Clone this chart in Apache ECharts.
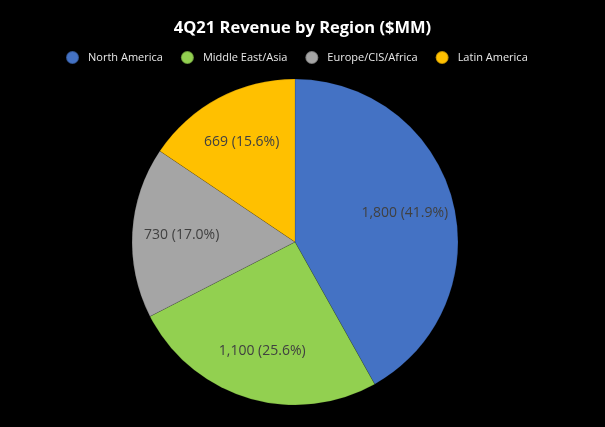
<!DOCTYPE html>
<html>
<head>
<meta charset="utf-8">
<script src="https://cdn.jsdelivr.net/npm/echarts@6/dist/echarts.min.js"></script>
<style>
  html, body { margin: 0; padding: 0; background: #000; }
  #chart { width: 605px; height: 427px; }
</style>
</head>
<body>
<div id="chart"></div>
<script>
// chart data
const regions = ['North America', 'Middle East/Asia', 'Europe/CIS/Africa', 'Latin America'];
const revenue = [1800, 1100, 730, 669];
const colors = ['#4472C4', '#92D050', '#A5A5A5', '#FFC000'];

const chart = echarts.init(document.getElementById('chart'));

const pieData = regions.map((name, i) => ({ name: name, value: revenue[i] }));
const total = revenue.reduce((a, b) => a + b, 0);

chart.setOption({
  backgroundColor: '#000',
  color: colors,
  animation: false,
  title: {
    text: '4Q21 Revenue by Region ($MM)',
    left: 'center',
    top: 15,
    textStyle: { color: '#fff', fontSize: 16.5, fontWeight: 'bold', fontFamily: 'Open Sans' }
  },
  legend: {
    top: 45,
    left: 60,
    icon: 'circle',
    itemWidth: 13,
    itemHeight: 13,
    itemGap: 17,
    textStyle: { color: '#e8e8e8', fontSize: 11, fontFamily: 'Open Sans', padding: [0, 0, 0, 4] },
    data: regions
  },
  series: [
    {
      type: 'pie',
      center: [295, 242],
      radius: 163,
      startAngle: 90,
      clockwise: true,
      label: { show: false },
      labelLine: { show: false },
      itemStyle: { borderColor: 'rgba(0,0,0,0.25)', borderWidth: 0.5 },
      emphasis: { disabled: true },
      data: pieData
    },
    {
      // label carrier so text sits ~0.7 of the radius like Excel
      type: 'pie',
      center: [295, 242],
      radius: [58, 163],
      startAngle: 90,
      clockwise: true,
      silent: true,
      itemStyle: { color: 'transparent' },
      label: {
        show: true,
        position: 'inside',
        color: '#404040',
        fontSize: 14,
        fontFamily: 'Open Sans',
        formatter: p => p.value.toLocaleString('en-US') + ' (' + (p.value / total * 100).toFixed(1) + '%)'
      },
      labelLine: { show: false },
      emphasis: { disabled: true },
      data: pieData
    }
  ]
});
</script>
</body>
</html>
